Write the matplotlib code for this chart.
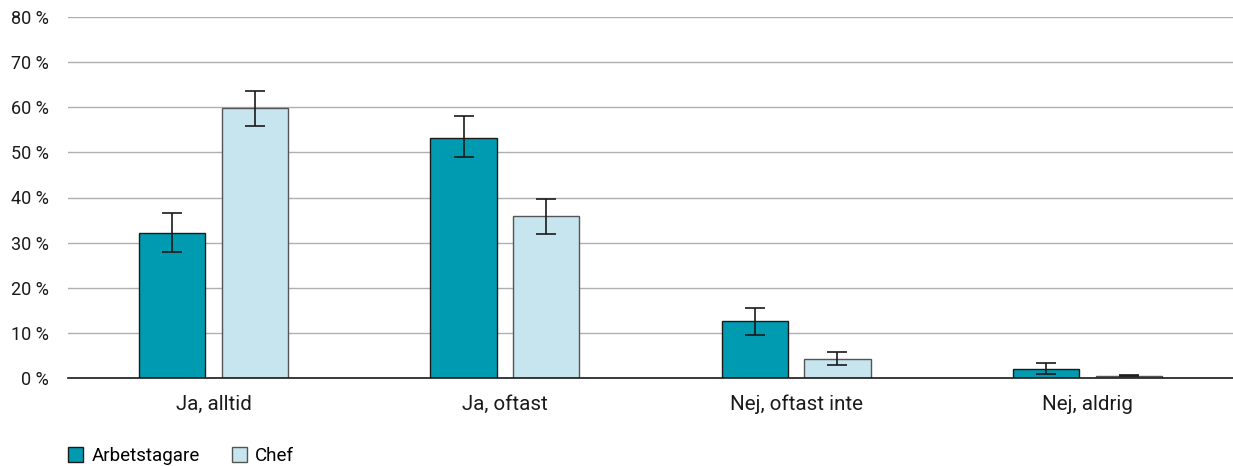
import matplotlib
matplotlib.use("Agg")
import matplotlib.pyplot as plt
import numpy as np
from matplotlib.ticker import FuncFormatter
from matplotlib.patches import Patch

plt.rcParams['font.family'] = ['Roboto', 'DejaVu Sans']

categories = ["Ja, alltid", "Ja, oftast", "Nej, oftast inte", "Nej, aldrig"]
series_names = ["Arbetstagare", "Chef"]
arbetstagare = [32.2, 53.2, 12.7, 2.1]
arbetstagare_lo = [28.0, 49.0, 9.5, 0.9]
arbetstagare_hi = [36.6, 58.1, 15.6, 3.4]
chef = [59.9, 35.8, 4.1, 0.5]
chef_lo = [55.9, 31.9, 2.8, 0.4]
chef_hi = [63.6, 39.7, 5.8, 0.7]
yticks = [0, 10, 20, 30, 40, 50, 60, 70, 80]

col_a = "#009bb1"
col_c = "#c6e5ee"

fig = plt.figure(figsize=(12.33, 4.66), dpi=100)
ax = fig.add_axes([68/1233, 1-378/466, 1-68/1233, (378-17)/466])

x = np.arange(len(categories))
w = 0.227
off = 0.142

def err(v, lo, hi):
    v = np.array(v); return np.vstack([v-np.array(lo), np.array(hi)-v])

ax.bar(x-off, arbetstagare, w, color=col_a, edgecolor="#1a1a1a", linewidth=1.0,
       yerr=err(arbetstagare, arbetstagare_lo, arbetstagare_hi),
       error_kw=dict(ecolor="#1a1a1a", elinewidth=1.2, capsize=7, capthick=1.2), zorder=3)
ax.bar(x+off, chef, w, color=col_c, edgecolor="#555555", linewidth=1.0,
       yerr=err(chef, chef_lo, chef_hi),
       error_kw=dict(ecolor="#1a1a1a", elinewidth=1.2, capsize=7, capthick=1.2), zorder=3)

ax.set_xlim(-0.5, 3.5)
ax.set_ylim(0, 80)
ax.set_yticks(yticks)
ax.yaxis.set_major_formatter(FuncFormatter(lambda v, p: f"{int(v)} %"))
ax.set_xticks(x)
ax.set_xticklabels(categories, fontsize=14.8, color="#1a1a1a")
ax.tick_params(axis='y', length=0, pad=14, labelsize=13, labelcolor="#1a1a1a")
ax.tick_params(axis='x', length=0, pad=12)
ax.grid(axis='y', color="#b0b0b0", linewidth=1.0, zorder=0)
ax.set_axisbelow(True)
for s in ["top", "right", "left"]:
    ax.spines[s].set_visible(False)
ax.spines["bottom"].set_color("#1a1a1a")
ax.spines["bottom"].set_linewidth(1.2)
ax.spines["bottom"].set_zorder(4)

handles = [Patch(facecolor=col_a, edgecolor="#1a1a1a", label=series_names[0]),
           Patch(facecolor=col_c, edgecolor="#555555", label=series_names[1])]
fig.legend(handles=handles, loc="center left", bbox_to_anchor=(68/1233, 1-456/466), ncol=2,
           frameon=False, fontsize=13.5, handlelength=0.8, handleheight=0.8,
           handletextpad=0.45, columnspacing=1.7, borderpad=0, borderaxespad=0)

fig.savefig("out.png", dpi=100)
